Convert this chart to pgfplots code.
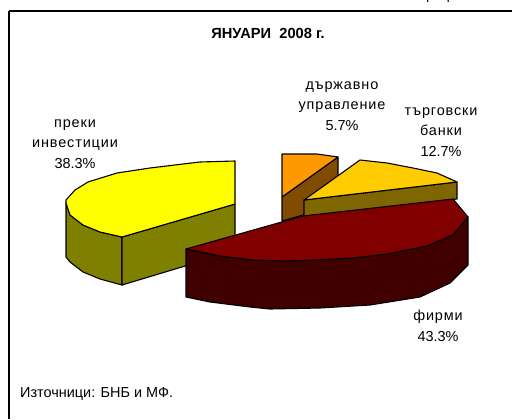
\documentclass[border=0pt]{standalone}
\usepackage{pgfplots}
\pgfplotsset{compat=1.18}
\usepackage{fontspec}
\setmainfont{Liberation Sans}
\newfontfamily\spaced[LetterSpace=6]{Liberation Sans}
\definecolor{yel}{RGB}{255,255,0}
\definecolor{yeld}{RGB}{128,128,0}
\definecolor{org}{RGB}{255,153,0}
\definecolor{orgd}{RGB}{128,77,0}
\definecolor{gold}{RGB}{255,204,0}
\definecolor{goldd}{RGB}{128,102,0}
\definecolor{mar}{RGB}{128,0,0}
\definecolor{mard}{RGB}{64,0,0}
\begin{document}
\begin{tikzpicture}[x=1bp,y=1bp]
\clip (0,0) rectangle (512,419);
\begin{axis}[scale only axis,width=512bp,height=419bp,xmin=0,xmax=512,ymin=0,ymax=419,y dir=reverse,hide axis,clip=false,at={(0,0)},anchor=south west,
 every axis plot/.append style={draw=black,line width=1.1pt,line join=round}]
% frame
\addplot[draw=black,line width=1.5pt,fill=none] coordinates {(9,11)(512,11)};
\addplot[draw=black,line width=1.5pt,fill=none] coordinates {(9,11)(9,419)};
% orange slice
\addplot[fill=orgd] coordinates {(282,197)(338,157)(338,205)(282,221)} --cycle;
\addplot[fill=org] coordinates {(282,154)(317,154)(338,157)(282,197)} --cycle;
% gold slice
\addplot[fill=goldd] coordinates {(304,200)(457,182)(457,199)(304,217)} --cycle;
\addplot[fill=gold] coordinates {(304,200)(360,160)(387,163)(413,168)(437,173)(457,182)} --cycle;
% yellow slice
\addplot[fill=yeld] coordinates {(66,203)(66,257)(70,262)(83,272)(100,279)(122,285)(122,237)(100,232)(83,225)(70,215)} --cycle;
\addplot[fill=yeld] coordinates {(122,237)(235,204)(235,251)(122,285)} --cycle;
\addplot[fill=yel] coordinates {(235,161)(235,204)(122,237)(100,232)(83,225)(70,215)(66,203)(66,200)(75,190)(88,182)(117,173)(150,168)(183,164)(200,162)} --cycle;
% maroon slice
\addplot[fill=mard] coordinates {(186,249)(186,297)(210,302)(250,307)(270,309)(320,308)(370,305)(420,297)(450,283)(468,265)(468,217)(453,235)(427,243)(387,252)(353,257)(313,260)(287,261)(253,260)(220,256)} --cycle;
\addplot[fill=mar] coordinates {(186,249)(303,216)(453,199)(468,217)(453,235)(427,246)(387,254)(353,258)(313,260)(287,261)(253,260)(220,256)} --cycle;
\node[font=\fontsize{14.7}{16}\selectfont\bfseries] at (268,33) {ЯНУАРИ\ \ 2008 г.};
\node[font=\fontsize{14.5}{20.5}\selectfont,align=center] at (342,106) {{\spaced държавно}\\{\spaced управление}\\5.7\%};
\node[font=\fontsize{14.5}{20.5}\selectfont,align=center] at (441,132) {{\spaced търговски}\\{\spaced банки}\\12.7\%};
\node[font=\fontsize{14.5}{20.5}\selectfont,align=center] at (75,144) {{\spaced преки}\\{\spaced инвестиции}\\38.3\%};
\node[font=\fontsize{14.5}{20.5}\selectfont,align=center] at (438,326) {{\spaced фирми}\\43.3\%};
\node[font=\fontsize{14.5}{16}\selectfont,anchor=west,inner sep=0pt] at (20,394) {Източници: БНБ и МФ.};
\node[font=\fontsize{14.5}{16}\selectfont,anchor=base west,inner sep=0pt] at (419,0) {Графика};
\end{axis}
\end{tikzpicture}
\end{document}
